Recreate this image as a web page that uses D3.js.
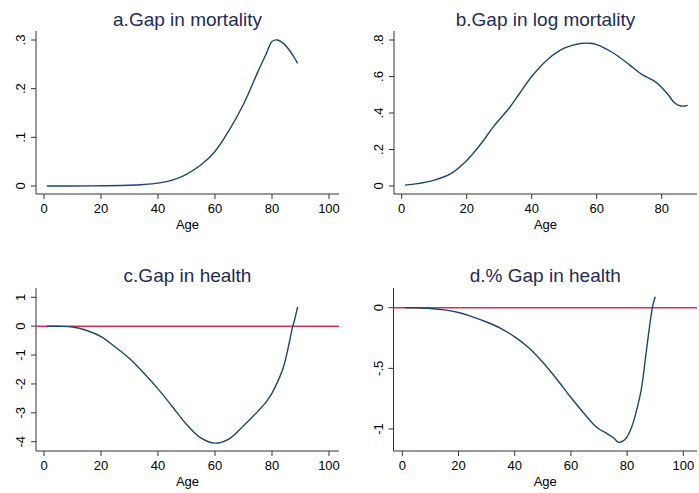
<!DOCTYPE html>
<html>
<head>
<meta charset="utf-8">
<script src="https://cdn.jsdelivr.net/npm/d3@7"></script>
<style>
  body { margin: 0; background: #fff; }
  text { font-family: "Liberation Sans", Arial, sans-serif; }
</style>
</head>
<body>
<svg id="chart" width="699" height="493"></svg>
<script>
// a. gap in mortality
var ageA = [1, 10, 20, 30, 35, 40, 45, 50, 55, 60, 65, 70, 75, 78, 80, 82, 84, 86, 88, 89];
var gapA = [0, 0, 0.0005, 0.0015, 0.003, 0.006, 0.012, 0.024, 0.043, 0.071, 0.115, 0.168, 0.234, 0.272, 0.297, 0.300, 0.293, 0.280, 0.262, 0.252];

// b. gap in log mortality
var ageB = [1, 5, 10, 15, 20, 25, 28, 33, 36, 40, 45, 50, 55, 58, 60, 65, 70, 74, 78, 80, 82, 84, 86, 88];
var gapB = [0.005, 0.013, 0.032, 0.066, 0.14, 0.245, 0.32, 0.426, 0.50, 0.60, 0.695, 0.755, 0.781, 0.782, 0.775, 0.73, 0.665, 0.61, 0.572, 0.54, 0.50, 0.455, 0.438, 0.442];

// c. gap in health
var ageC = [1, 5, 10, 15, 20, 25, 30, 35, 40, 45, 50, 55, 60, 65, 70, 75, 78, 80, 82, 84, 86, 87, 88, 89];
var gapC = [0, -0.005, -0.03, -0.15, -0.36, -0.72, -1.12, -1.62, -2.17, -2.78, -3.4, -3.87, -4.05, -3.9, -3.45, -2.95, -2.62, -2.32, -1.92, -1.42, -0.6, -0.12, 0.25, 0.67];

// d. % gap in health
var ageD = [1, 5, 10, 15, 20, 25, 30, 35, 40, 45, 50, 55, 60, 65, 68, 70, 73, 75, 77, 78, 79.5, 81, 82, 83, 85, 87, 89, 90];
var gapD = [0, -0.001, -0.006, -0.018, -0.04, -0.075, -0.118, -0.17, -0.24, -0.33, -0.45, -0.59, -0.74, -0.88, -0.96, -1.0, -1.04, -1.07, -1.11, -1.105, -1.08, -1.02, -0.96, -0.88, -0.68, -0.33, 0, 0.09];

var ticksX100 = [0, 20, 40, 60, 80, 100];
var ticksX80 = [0, 20, 40, 60, 80];
var ticksA = [0, 0.1, 0.2, 0.3], labelsA = ["0", ".1", ".2", ".3"];
var ticksB = [0, 0.2, 0.4, 0.6, 0.8], labelsB = ["0", ".2", ".4", ".6", ".8"];
var ticksC = [-4, -3, -2, -1, 0, 1], labelsC = ["-4", "-3", "-2", "-1", "0", "1"];
var ticksD = [-1, -0.5, 0], labelsD = ["-1", "-.5", "0"];

var svg = d3.select('#chart');
var lineColor = '#1a476f', refColor = '#d6305a', titleColor = '#1e2b57';

function panel(p) {
  var g = svg.append('g');
  var x = d3.scaleLinear().domain(p.xd).range(p.xr);
  var y = d3.scaleLinear().domain(p.yd).range(p.yr);

  g.append('text')
    .attr('x', (p.box[0] + p.box[1]) / 2)
    .attr('y', p.titleY)
    .attr('text-anchor', 'middle')
    .attr('fill', titleColor)
    .style('font-size', '19px')
    .text(p.title);

  // axes lines
  g.append('line')
    .attr('x1', p.box[0]).attr('x2', p.box[0])
    .attr('y1', p.box[2]).attr('y2', p.box[3])
    .attr('stroke', '#333').attr('stroke-width', 1);
  g.append('line')
    .attr('x1', p.box[0]).attr('x2', p.box[1])
    .attr('y1', p.box[3]).attr('y2', p.box[3])
    .attr('stroke', '#333').attr('stroke-width', 1);

  // x ticks
  var xt = g.selectAll('.xt').data(p.xticks).enter().append('g');
  xt.append('line')
    .attr('x1', d => x(d)).attr('x2', d => x(d))
    .attr('y1', p.box[3]).attr('y2', p.box[3] + 5)
    .attr('stroke', '#333');
  xt.append('text')
    .attr('x', d => x(d)).attr('y', p.box[3] + 19)
    .attr('text-anchor', 'middle')
    .style('font-size', '13px')
    .text(d => d);
  g.append('text')
    .attr('x', (p.box[0] + p.box[1]) / 2).attr('y', p.box[3] + 35)
    .attr('text-anchor', 'middle')
    .style('font-size', '13px')
    .text('Age');

  // y ticks
  var yt = g.selectAll('.yt').data(p.yticks).enter().append('g');
  yt.append('line')
    .attr('x1', p.box[0] - 5).attr('x2', p.box[0])
    .attr('y1', d => y(d)).attr('y2', d => y(d))
    .attr('stroke', '#333');
  yt.append('text')
    .attr('transform', d => 'translate(' + (p.box[0] - 11) + ',' + y(d) + ') rotate(-90)')
    .attr('text-anchor', 'middle')
    .style('font-size', '13px')
    .text((d, i) => p.ylabels[i]);

  if (p.zeroLine) {
    g.append('line')
      .attr('x1', p.box[0]).attr('x2', p.box[1])
      .attr('y1', y(0)).attr('y2', y(0))
      .attr('stroke', refColor).attr('stroke-width', 1.6);
  }

  var pts = p.ages.map((a, i) => [a, p.vals[i]]);
  var line = d3.line()
    .x(d => x(d[0]))
    .y(d => y(d[1]))
    .curve(d3.curveCatmullRom.alpha(0.5));
  g.append('path')
    .attr('d', line(pts))
    .attr('fill', 'none')
    .attr('stroke', lineColor)
    .attr('stroke-width', 1.4);
}

panel({ title: 'a.Gap in mortality', titleY: 26, box: [36, 339, 31, 194],
  xd: [0, 100], xr: [44, 329], yd: [0, 0.3], yr: [186, 40],
  xticks: ticksX100, yticks: ticksA, ylabels: labelsA, ages: ageA, vals: gapA });

panel({ title: 'b.Gap in log mortality', titleY: 26, box: [394, 697, 31, 194],
  xd: [0, 80], xr: [401.7, 661.7], yd: [0, 0.8], yr: [186, 40],
  xticks: ticksX80, yticks: ticksB, ylabels: labelsB, ages: ageB, vals: gapB });

panel({ title: 'c.Gap in health', titleY: 282, box: [36, 339, 288, 451],
  xd: [0, 100], xr: [44, 329], yd: [-4, 1], yr: [441.7, 297.3],
  xticks: ticksX100, yticks: ticksC, ylabels: labelsC, ages: ageC, vals: gapC, zeroLine: true });

panel({ title: 'd.% Gap in health', titleY: 282, box: [393.5, 697, 288, 451],
  xd: [0, 100], xr: [402.3, 683.3], yd: [-1, 0], yr: [429, 307.7],
  xticks: ticksX100, yticks: ticksD, ylabels: labelsD, ages: ageD, vals: gapD, zeroLine: true });
</script>
</body>
</html>
